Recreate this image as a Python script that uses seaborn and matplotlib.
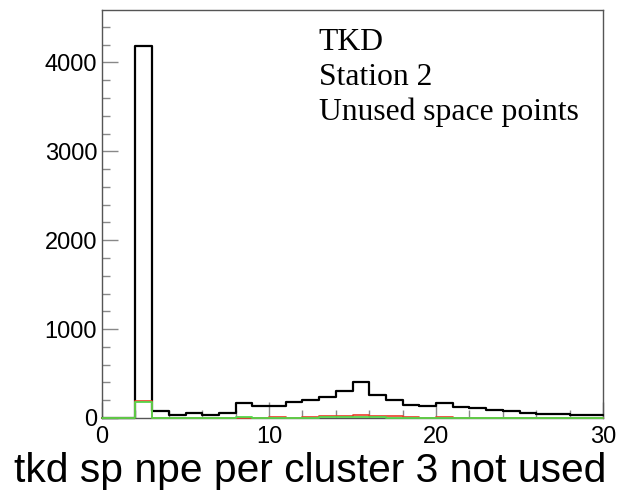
import numpy as np
import pandas as pd
import matplotlib
matplotlib.use("Agg")
import matplotlib.pyplot as plt
import seaborn as sns
from matplotlib.ticker import MultipleLocator

# ---- data (bin counts, bins of width 1 from 0 to 30) ----
bin_edges = list(range(0, 31))
black_counts = [0, 0, 4180, 82, 30, 52, 30, 60, 169, 135,
                135, 184, 206, 240, 307, 409, 262, 199, 150, 139,
                169, 120, 109, 94, 75, 60, 41, 45, 34, 30]
red_counts = [0, 0, 195, 2, 1, 1, 1, 2, 4, 3,
              8, 5, 15, 22, 28, 35, 20, 18, 16, 5,
              10, 3, 2, 2, 1, 1, 1, 1, 1, 1]
green_counts = [0, 0, 176, 2, 1, 1, 1, 1, 6, 2,
                3, 2, 4, 6, 8, 10, 6, 5, 4, 2,
                3, 2, 1, 1, 1, 1, 1, 1, 1, 1]
labels = ["TKD", "Station 2", "Unused space points"]
xlabel = "tkd sp npe per cluster 3 not used"
x_ticks = [0, 10, 20, 30]
y_ticks = [0, 1000, 2000, 3000, 4000]

centers = [e + 0.5 for e in bin_edges[:-1]]
df = pd.DataFrame({"x": centers, "black": black_counts,
                   "red": red_counts, "green": green_counts})

sns.set_style("white")
plt.rcParams["font.family"] = ["Liberation Sans", "DejaVu Sans"]
plt.rcParams["text.color"] = "black"
plt.rcParams["xtick.labelcolor"] = "black"
plt.rcParams["ytick.labelcolor"] = "black"

fig = plt.figure(figsize=(6.22, 4.92), dpi=100)
ax = fig.add_axes([102 / 622, 1 - 418 / 492, 501 / 622, 408 / 492])

for col, color, lw in [("black", "black", 1.6), ("red", "#e8402a", 1.2),
                       ("green", "#55d64a", 1.3)]:
    sns.histplot(data=df, x="x", weights=col, bins=bin_edges, element="step",
                 fill=False, color=color, linewidth=lw, ax=ax, clip_on=False,
                 zorder=5)

ax.set_xlim(0, 30)
ax.set_ylim(0, 4590)
ax.set_xticks(x_ticks)
ax.set_yticks(y_ticks)
ax.xaxis.set_minor_locator(MultipleLocator(2))
ax.yaxis.set_minor_locator(MultipleLocator(200))
ax.tick_params(which="both", direction="in", color="#888888", width=1,
               top=False, right=False, bottom=True, left=True)
ax.tick_params(which="major", length=11.5)
ax.tick_params(which="minor", length=5.8)
ax.tick_params(axis="x", which="major", labelsize=17, pad=6)
ax.tick_params(axis="y", which="major", labelsize=17, pad=3.5)
ax.set_xlabel("")
ax.set_ylabel("")
for s in ax.spines.values():
    s.set_color("#555555")
    s.set_linewidth(1.0)
    s.set_visible(True)
    s.set_zorder(1)

ys = [0.902, 0.816, 0.730]
for t, y in zip(labels, ys):
    ax.text(0.433, y, t, transform=ax.transAxes, ha="left", va="baseline",
            fontsize=22.8, color="black",
            family=["Liberation Serif", "DejaVu Serif"])

fig.text(606 / 622, 1 - 482 / 492, xlabel, ha="right", va="baseline",
         fontsize=29.3, color="black")

fig.savefig("out.png", dpi=100, facecolor="white")
